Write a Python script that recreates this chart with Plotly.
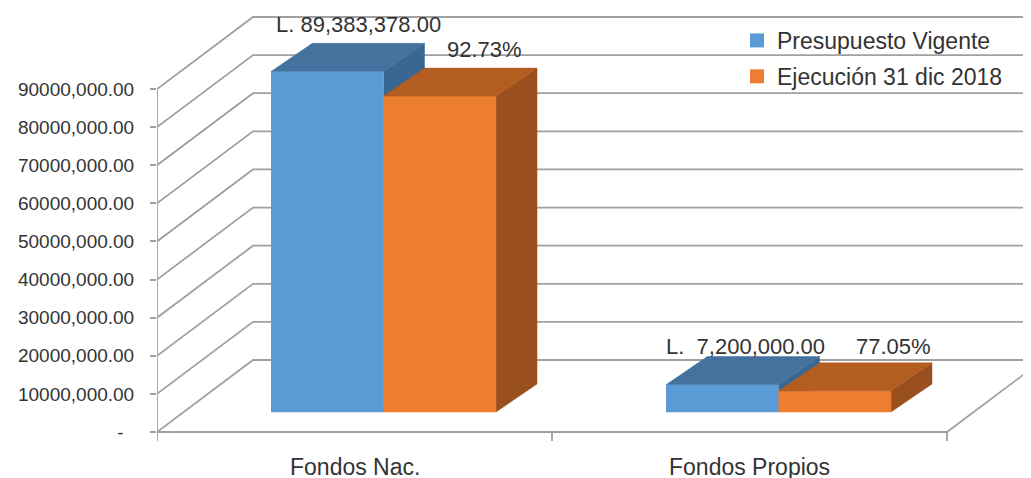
import plotly.graph_objects as go

# datos
categorias = ["Fondos Nac.", "Fondos Propios"]
series = ["Presupuesto Vigente", "Ejecución 31 dic 2018"]
presupuesto = [89383378, 7200000]
ejecucion = [82885206, 5547600]
ejecucion_pct = [92.73, 77.05]
ticks_y = [0, 10e6, 20e6, 30e6, 40e6, 50e6, 60e6, 70e6, 80e6, 90e6]
ticks_y_text = ["-\u00a0\u00a0"] + ["{}0000,000.00".format(i) for i in range(1, 10)]

# geometry (pixel based); page body adds an 8px margin, so subtract it
PAGE = 8
W, H = 1031, 478
X0, Y0 = 157 - PAGE, 432 - PAGE  # origin of front plane in px
PX_X = 395.0  # px per category
PX_Y = 343.0 / 90e6  # px per unit value
WALL = (96, 72)  # depth of back wall (px right, px up)
BAR_FRONT = (29, 20)
BAR_BACK = (70, 48)
BAR_W = 112.5 / PX_X

GRID = "#a0a0a0"
TXT = "#333333"
colors = [
    dict(front="#5B9BD5", top="#44729E", side="#3A6792"),
    dict(front="#ED7D31", top="#B45D21", side="#9A4F1E"),
]
label_shift = [[(-10, 19), (4, 19)], [(-18, 10), (18, 16)]]


def ox(px):
    return px / PX_X


def oy(px):
    return px / PX_Y


fig = go.Figure()

# back wall, left wall and floor
xs, ys = [], []
for v in ticks_y:
    xs += [0, ox(WALL[0]), 2 + ox(WALL[0]) + 0.2, None]
    ys += [v, v + oy(WALL[1]), v + oy(WALL[1]), None]
xs += [0, 2, 2 + ox(WALL[0]), None, 0, 0, None]
ys += [0, 0, oy(WALL[1]), None, 0, ticks_y[-1], None]
for c in range(3):
    xs += [c, c, None]
    ys += [0, -oy(9), None]
fig.add_trace(
    go.Scatter(
        x=xs, y=ys, mode="lines", line=dict(color=GRID, width=1.8),
        showlegend=False, hoverinfo="skip",
    )
)

values = [presupuesto, ejecucion]
for c in range(len(categorias)):
    for s in range(2):
        v = values[s][c]
        xl = c + 0.5 - BAR_W + s * BAR_W + ox(BAR_FRONT[0])
        xr = xl + BAR_W
        yb = oy(BAR_FRONT[1])
        yt = yb + v
        bx, by = ox(BAR_BACK[0] - BAR_FRONT[0]), oy(BAR_BACK[1] - BAR_FRONT[1])
        faces = [
            ("side", [xr, xr + bx, xr + bx, xr], [yb, yb + by, yt + by, yt]),
            ("front", [xl, xr, xr, xl], [yb, yb, yt, yt]),
            ("top", [xl, xr, xr + bx, xl + bx], [yt, yt, yt + by, yt + by]),
        ]
        for face, fx, fy in faces:
            fig.add_trace(
                go.Scatter(
                    x=fx, y=fy, fill="toself", mode="lines",
                    fillcolor=colors[s][face],
                    line=dict(color=colors[s][face], width=0.5),
                    showlegend=False, hoverinfo="skip",
                )
            )
        if s == 0:
            txt = "L. {:>13,.2f}".format(v).replace(" ", "\u00a0")
        else:
            txt = "{:.2f}%".format(ejecucion_pct[c])
        sh = label_shift[c][s]
        fig.add_annotation(
            x=(xl + xr) / 2 + bx, y=yt + by, text=txt, showarrow=False,
            xshift=sh[0], yshift=sh[1], yanchor="middle",
            font=dict(size=22, color=TXT),
        )

for c, cat in enumerate(categorias):
    fig.add_annotation(
        x=c + 0.5, y=0, yshift=-35, text=cat, showarrow=False,
        font=dict(size=23, color=TXT),
    )

for s, name in enumerate(series):
    fig.add_trace(
        go.Scatter(
            x=[None], y=[None], mode="markers", name=name,
            marker=dict(symbol="square", size=14, color=colors[s]["front"]),
            legendgroup=str(s),
        )
    )

fig.update_layout(
    width=W, height=H,
    margin=dict(l=X0, r=0, t=0, b=0),
    paper_bgcolor="white", plot_bgcolor="white",
    font=dict(family="Liberation Sans, Arial, sans-serif", color=TXT),
    legend=dict(
        x=(729 - X0) / (W - X0), y=1 - 11 / H, xanchor="left", yanchor="top",
        font=dict(size=23, color=TXT), traceorder="grouped", tracegroupgap=3,
        bgcolor="rgba(0,0,0,0)",
    ),
)
fig.update_xaxes(
    range=[0, (W - X0) / PX_X], showgrid=False, zeroline=False,
    showticklabels=False, showline=False,
)
fig.update_yaxes(
    range=[-(H - Y0) / PX_Y, Y0 / PX_Y], showgrid=False, zeroline=False,
    showline=False, tickvals=ticks_y, ticktext=ticks_y_text,
    ticks="outside", ticklen=6, tickcolor=GRID, tickwidth=1.5,
    tickfont=dict(size=19, color=TXT), ticklabelstandoff=12,
)

fig.write_html("out.html")
